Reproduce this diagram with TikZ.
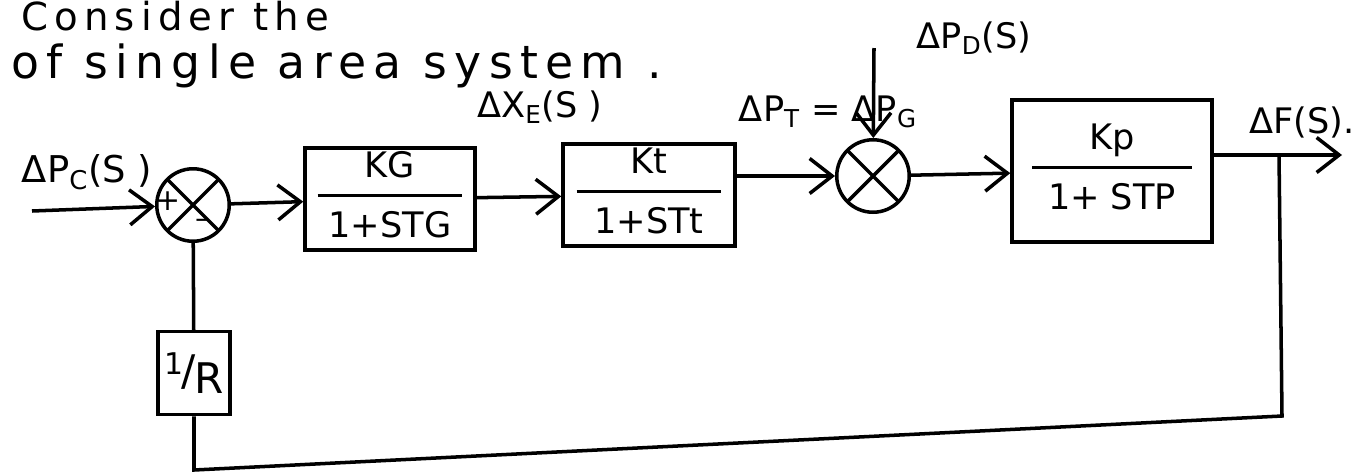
\documentclass[tikz,border=0pt]{standalone}
\usepackage{fontspec}
\setmainfont{DejaVu Sans}
\usetikzlibrary{arrows.meta}

% numerator over a bar of given length over denominator
\newcommand{\gainfrac}[3]{%
  \setlength{\arrayrulewidth}{2pt}%
  \begin{tabular}{@{}c@{}}\makebox[#1]{#2}\\[2pt]\hline\rule{0pt}{1.15em}#3\end{tabular}}

\tikzset{
  >={Straight Barb[length=4.5mm,width=7mm]},
  wire/.style={line width=2pt},
  block/.style={draw, line width=2pt, inner sep=0pt, font=\fontsize{20}{24}\selectfont},
  sumjn/.style={draw, line width=2pt, circle, minimum size=1.45cm, inner sep=0pt,
    path picture={\draw[line width=2pt]
      (path picture bounding box.north west) -- (path picture bounding box.south east)
      (path picture bounding box.north east) -- (path picture bounding box.south west);}},
  signal/.style={font=\fontsize{20}{24}\selectfont},
  heading/.style={anchor=base west, font=\fontsize{26}{32}\selectfont\addfontfeatures{LetterSpace=16}},
}

\begin{document}
\begin{tikzpicture}[x=0.02cm, y=-0.02cm]
	\useasboundingbox (0,0) rectangle (1368,474);
	\clip (0,0) rectangle (1368,474);

	%heading
	\node[heading, font=\fontsize{22}{26}\selectfont\addfontfeatures{LetterSpace=16}] (head1) at (15,30) {Consider the};
	\node[heading] (head2) at (5,78) {of single area system .};

	%summing points and transfer blocks
	\node[sumjn] (sum1) at (193,205) {};
	\node[font=\fontsize{17}{19}\selectfont] (plus) at (168,201) {+};
	\node[font=\fontsize{17}{19}\selectfont] (minus) at (203,224) {–};
	\node[block, minimum width=3.4cm, minimum height=1.94cm] (gov) at (390,199) {\gainfrac{2.9cm}{KG}{1+STG}};
	\node[block, minimum width=3.44cm, minimum height=2cm] (turb) at (649,195) {\gainfrac{2.9cm}{Kt}{1+STt}};
	\node[sumjn] (sum2) at (873,176) {};
	\node[block, minimum width=4cm, minimum height=2.84cm] (pwr) at (1112,171) {\gainfrac{3.2cm}{Kp}{1+ STP}};
	\node[block, minimum width=1.44cm, minimum height=1.66cm, font=\fontsize{24}{28}\selectfont] (droop) at (194,373)
		{\raisebox{.45ex}{\fontsize{17}{19}\selectfont 1}\kern-1pt/\kern-1pt\raisebox{-.35ex}{R}};

	%signal names
	\node[signal, font=\fontsize{21}{25}\selectfont] (pc) at (87,172) {ΔP\textsubscript{C}(S )};
	\node[signal] (xe) at (540,107) {ΔX\textsubscript{E}(S )};
	\node[signal] (pt) at (828,112) {ΔP\textsubscript{T} = ΔP\textsubscript{G}};
	\node[signal] (pd) at (974,38) {ΔP\textsubscript{D}(S)};
	\node[signal] (df) at (1302,122) {ΔF(S).};

	%free ends and corners of the lines
	\coordinate (in) at (32,211);
	\coordinate (dist) at (874,48);
	\coordinate (br) at (1279,155);
	\coordinate (out) at (1342,155);
	\coordinate (fbr) at (1282,416);
	\coordinate (fbl) at (194,470);

	%forward path
	\draw[wire,->] (in) -- (sum1);
	\draw[wire,->] (sum1) -- (gov);
	\draw[wire,->] (gov) -- (turb);
	\draw[wire,->] (turb.east |- sum2) -- (sum2);
	\draw[wire,->] (dist) -- (sum2);
	\draw[wire,->] (sum2) -- (pwr);
	\draw[wire,->] (pwr.east |- out) -- (out);

	%feedback through 1/R
	\draw[wire] (br) -- (fbr) -- (fbl) -- (droop);
	\draw[wire] (droop) -- (sum1);
\end{tikzpicture}
\end{document}
